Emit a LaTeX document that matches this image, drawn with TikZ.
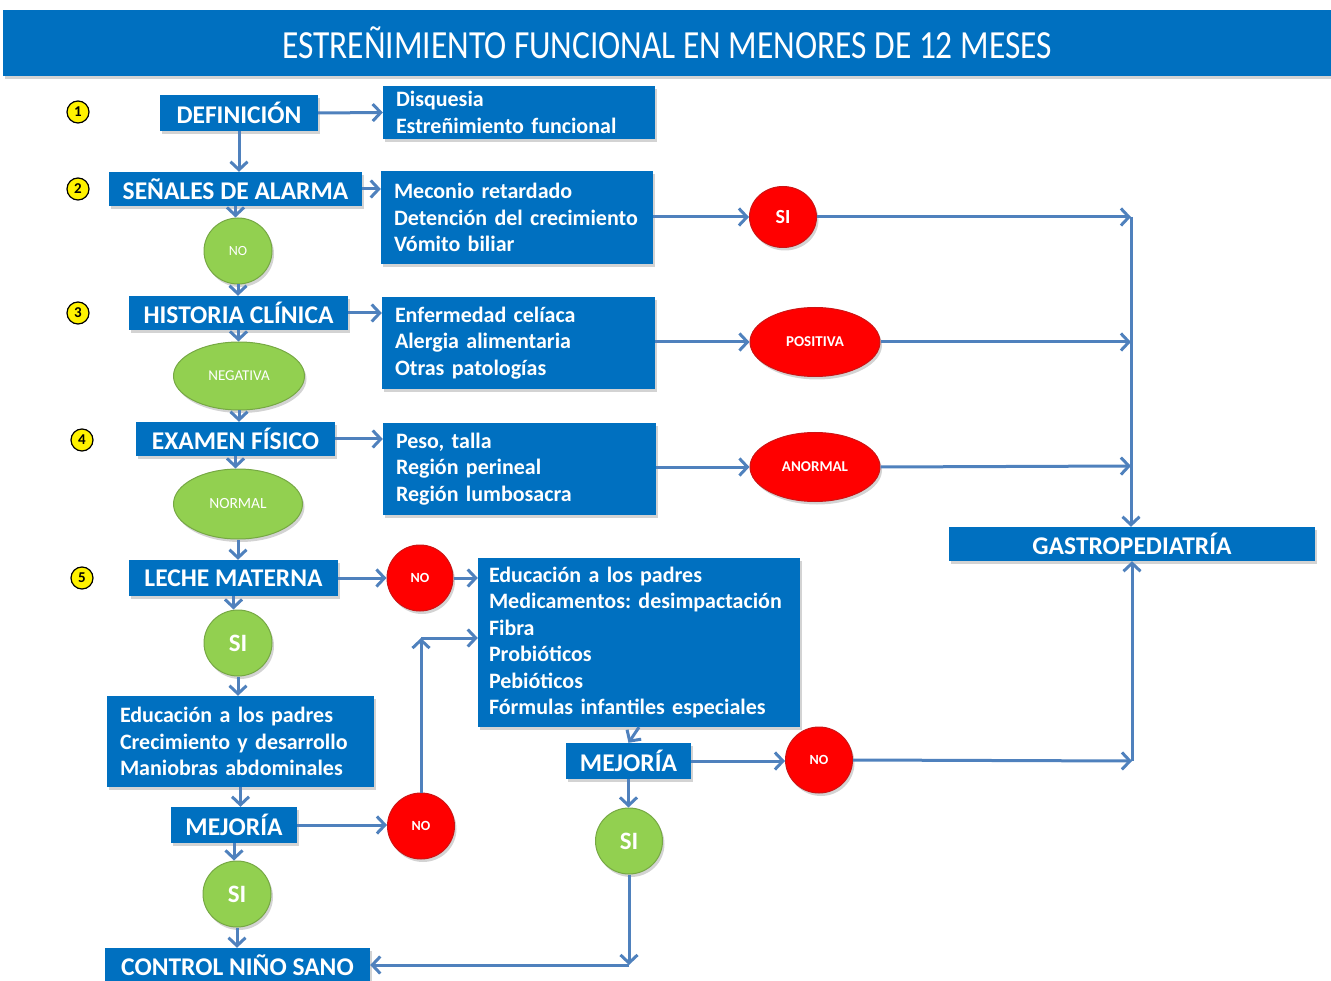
\documentclass[tikz,border=0pt]{standalone}
\usepackage{fontspec}
\setmainfont{Carlito}
\usetikzlibrary{arrows.meta,shapes.geometric,shadows}
\definecolor{boxblue}{RGB}{0,112,192}
\definecolor{arrowblue}{RGB}{79,129,189}
\definecolor{okgreen}{RGB}{146,208,80}
\definecolor{okgreenD}{RGB}{118,168,68}
\definecolor{alarmred}{RGB}{255,0,0}
\definecolor{alarmredD}{RGB}{205,20,20}
\tikzset{
  shade/.style={drop shadow={shadow xshift=2pt,shadow yshift=-3pt,opacity=0.35}},
  hdr/.style={rectangle, fill=boxblue, text=white, inner sep=0pt,
    font=\bfseries\fontsize{25.5}{28}\selectfont, shade},
  items/.style={rectangle, fill=boxblue, text=white, inner xsep=13pt, inner ysep=0pt,
    align=left, font=\bfseries\fontsize{22}{26.5}\selectfont, shade},
  okell/.style={ellipse, fill=okgreen, draw=okgreenD, line width=1pt, inner sep=0pt,
    text=white, shade},
  badell/.style={ellipse, fill=alarmred, draw=alarmredD, line width=1pt, inner sep=0pt,
    text=white, shade},
  num/.style={circle, fill=yellow, draw=black, line width=1.2pt, inner sep=0pt,
    minimum size=22pt, font=\bfseries\fontsize{15}{15}\selectfont},
  arr/.style={draw=arrowblue, line width=3pt, -{Straight Barb[length=8pt,width=17pt]}},
  plain/.style={draw=arrowblue, line width=3pt}
}
\begin{document}
\frenchspacing
\begin{tikzpicture}[x=1pt,y=-1pt]
\useasboundingbox (0,0) rectangle (1331,981);
% title bar
\node[rectangle, fill=boxblue, minimum width=1328pt, minimum height=66pt, inner sep=0pt,
  shade, text=white] (title) at (667,43)
  {\fontsize{38}{40}\selectfont\scalebox{0.88}[1.05]{ESTREÑIMIENTO FUNCIONAL EN MENORES DE 12 MESES}};

% step numbers
\node[num] (n1) at (78,112) {1};
\node[num] (n2) at (78,189) {2};
\node[num] (n3) at (78,313) {3};
\node[num] (n4) at (82,440) {4};
\node[num] (n5) at (82,578) {5};

% left column headers
\node[hdr, minimum width=158pt, minimum height=36pt] (def) at (239,113) {DEFINICIÓN};
\node[hdr, minimum width=253pt, minimum height=34pt] (alarm) at (235.5,189) {SEÑALES DE ALARMA};
\node[hdr, minimum width=219pt, minimum height=34pt] (hist) at (238.5,313) {HISTORIA CLÍNICA};
\node[hdr, minimum width=199pt, minimum height=34pt] (exam) at (235.5,439) {EXAMEN FÍSICO};
\node[hdr, minimum width=209pt, minimum height=36pt] (leche) at (233.5,578) {LECHE MATERNA};
\node[hdr, minimum width=126pt, minimum height=36pt] (mej1) at (234,825) {MEJORÍA};
\node[hdr, minimum width=265pt, minimum height=34pt] (control) at (237.5,965) {CONTROL NIÑO SANO};
\node[hdr, minimum width=125pt, minimum height=36pt] (mej2) at (628.5,761) {MEJORÍA};
\node[hdr, minimum width=366pt, minimum height=34pt] (gastro) at (1132,544) {GASTROPEDIATRÍA};

% item boxes
\node[items, minimum width=272pt, minimum height=53pt, text width=246pt] (dis) at (519,112.5)
  {Disquesia\\Estreñimiento funcional};
\node[items, minimum width=272pt, minimum height=93pt, text width=246pt] (mec) at (517,217.5)
  {Meconio retardado\\Detención del crecimiento\\Vómito biliar};
\node[items, minimum width=273pt, minimum height=92pt, text width=247pt] (enf) at (518.5,343)
  {Enfermedad celíaca\\Alergia alimentaria\\Otras patologías};
\node[items, minimum width=273pt, minimum height=92pt, text width=247pt] (peso) at (519.5,469)
  {Peso, talla\\Región perineal\\Región lumbosacra};
\node[items, minimum width=322pt, minimum height=169pt, text width=300pt, inner xsep=11pt] (edr) at (639,642.5)
  {Educación a los padres\\Medicamentos: desimpactación\\Fibra\\Probióticos\\Pebióticos\\Fórmulas infantiles especiales};
\node[items, minimum width=267pt, minimum height=91pt, text width=241pt] (edl) at (240.5,741.5)
  {Educación a los padres\\Crecimiento y desarrollo\\Maniobras abdominales};

% green outcomes
\node[okell, minimum width=68pt, minimum height=66pt, font=\fontsize{14}{14}\selectfont] (no1) at (238,251) {NO};
\node[okell, minimum width=131pt, minimum height=68pt, font=\fontsize{15}{15}\selectfont] (neg) at (239,376) {NEGATIVA};
\node[okell, minimum width=129pt, minimum height=70pt, font=\fontsize{15.5}{15.5}\selectfont] (norm) at (238,504) {NORMAL};
\node[okell, minimum width=68pt, minimum height=66pt, font=\bfseries\fontsize{25}{25}\selectfont] (si2) at (238,643) {SI};
\node[okell, minimum width=68pt, minimum height=66pt, font=\bfseries\fontsize{25}{25}\selectfont] (si3) at (237,894) {SI};
\node[okell, minimum width=67pt, minimum height=66pt, font=\bfseries\fontsize{25}{25}\selectfont] (si4) at (629,841) {SI};

% red outcomes
\node[badell, minimum width=67pt, minimum height=61pt, font=\bfseries\fontsize{20}{20}\selectfont] (si1) at (783,217) {SI};
\node[badell, minimum width=130pt, minimum height=69pt, font=\bfseries\fontsize{15}{15}\selectfont] (pos) at (815,342) {POSITIVA};
\node[badell, minimum width=130pt, minimum height=69pt, font=\bfseries\fontsize{15}{15}\selectfont] (anorm) at (815,467) {ANORMAL};
\node[badell, minimum width=66pt, minimum height=66pt, font=\bfseries\fontsize{14}{14}\selectfont] (no2) at (420,578) {NO};
\node[badell, minimum width=67pt, minimum height=66pt, font=\bfseries\fontsize{14}{14}\selectfont] (no3) at (421,826) {NO};
\node[badell, minimum width=67pt, minimum height=66pt, font=\bfseries\fontsize{14}{14}\selectfont] (no4) at (819,760) {NO};

% junctions
\coordinate (j1) at (1131,217);
\coordinate (j2) at (1131,342);
\coordinate (j3) at (1131,466);
\coordinate (j4) at (1132,761);
\coordinate (c1) at (421,638);
\coordinate (j5) at (629,965);

% connectors: main column
\draw[arr] (def.east) -- (dis.west);
\draw[arr] (def.south) -- (def.south |- alarm.north);
\draw[arr] (alarm.east) -- (alarm.east -| mec.west);
\draw[arr] (alarm.south) -- (alarm.south |- no1.north);
\draw[arr] (no1.south) -- (no1.south |- hist.north);
\draw[arr] (hist.east) -- (hist.east -| enf.west);
\draw[arr] (hist.south) -- (hist.south |- neg.north);
\draw[arr] (neg.south) -- (neg.south |- exam.north);
\draw[arr] (exam.east) -- (exam.east -| peso.west);
\draw[arr] (exam.south) -- (exam.south |- norm.north);
\draw[arr] (norm.south) -- (norm.south |- leche.north);

% to red outcomes and gastro
\draw[arr] (mec.east |- si1.west) -- (si1.west);
\draw[arr] (si1.east) -- (j1);
\draw[arr] (enf.east |- pos.west) -- (pos.west);
\draw[arr] (pos.east) -- (j2);
\draw[arr] (peso.east |- anorm.west) -- (anorm.west);
\draw[arr] (anorm.east) -- (j3);
\draw[arr] (j1) -- (j1 |- gastro.north);

% lactation branch
\draw[arr] (leche.east) -- (no2.west);
\draw[arr] (no2.east) -- (no2.east -| edr.west);
\draw[arr] (leche.south) -- (leche.south |- si2.north);
\draw[arr] (si2.south) -- (si2.south |- edl.north);
\draw[arr] (edl.south) -- (edl.south |- mej1.north);
\draw[arr] (mej1.east) -- (mej1.east -| no3.west);
\draw[arr] (no3.north) -- (c1);
\draw[arr] (c1) -- (c1 -| edr.west);
\draw[arr] (mej1.south) -- (mej1.south |- si3.north);
\draw[arr] (si3.south) -- (si3.south |- control.north);

% right treatment branch
\draw[arr] (edr.south) -- (mej2.north);
\draw[arr] (mej2.east) -- (mej2.east -| no4.west);
\draw[arr] (no4.east) -- (j4);
\draw[arr] (j4) -- (j4 |- gastro.south);
\draw[arr] (mej2.south) -- (mej2.south |- si4.north);
\draw[arr] (si4.south) -- (j5);
\draw[arr] (j5) -- (j5 -| control.east);
\end{tikzpicture}
\end{document}
